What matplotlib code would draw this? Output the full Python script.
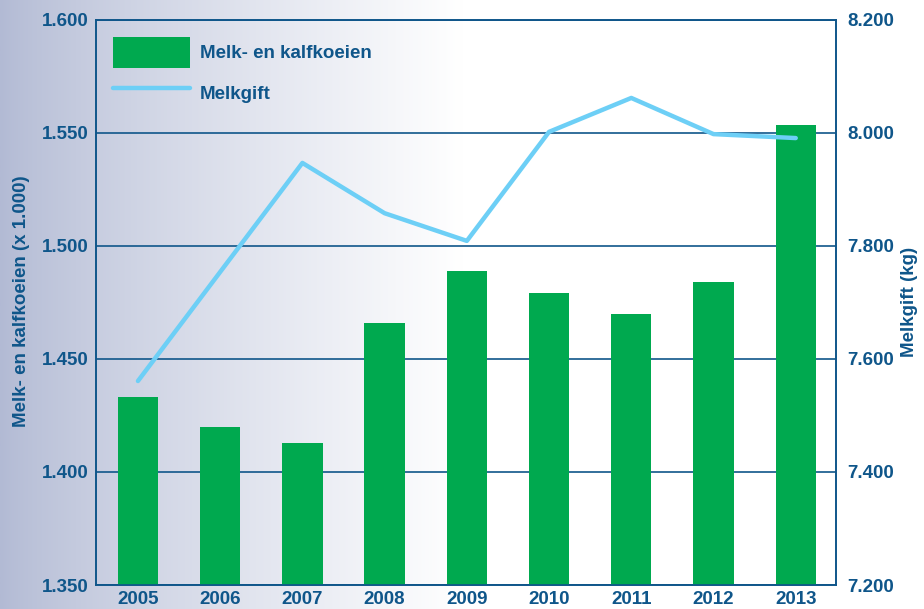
import matplotlib
matplotlib.use('Agg')
import matplotlib.pyplot as plt
import numpy as np
from matplotlib.ticker import FuncFormatter

years = ['2005', '2006', '2007', '2008', '2009', '2010', '2011', '2012', '2013']
koeien = [1.433, 1.420, 1.413, 1.466, 1.489, 1.479, 1.470, 1.484, 1.5535]
melkgift = [7561, 7754, 7947, 7858, 7809, 8002, 8062, 7998, 7991]

dark_blue = '#0f568a'
green = '#00a94f'
light_blue = '#6dcff6'

plt.rcParams['font.family'] = ['Liberation Sans', 'DejaVu Sans']
plt.rcParams['font.weight'] = 'bold'

fig = plt.figure(figsize=(9.24, 6.09), dpi=100)

# background gradient, grey-blue on the left fading to white
bg = fig.add_axes([0, 0, 1, 1], zorder=-10)
grad = np.linspace(0, 1, 400)
grad = np.clip(grad / 0.5, 0, 1) ** 0.8
left_col = np.array([178, 186, 212]) / 255.0
img = left_col[None, None, :] * (1 - grad)[None, :, None] + np.ones(3)[None, None, :] * grad[None, :, None]
bg.imshow(img, aspect='auto', extent=[0, 1, 0, 1])
bg.axis('off')

ax = fig.add_axes([0.1039, 0.0394, 0.8009, 0.9278])
ax.patch.set_alpha(0)
x = np.arange(len(years))

ax.bar(x, koeien, width=0.49, color=green, zorder=3, label='Melk- en kalfkoeien')
ax.set_ylim(1.35, 1.60)
ax.set_xlim(-0.51, 8.49)
ax.set_yticks(np.arange(1.35, 1.6001, 0.05))
ax.yaxis.set_major_formatter(FuncFormatter(lambda v, p: f'{v:.3f}'))
ax.grid(axis='y', color=dark_blue, linewidth=1.2, zorder=1)
ax.set_xticks(x)
ax.set_xticklabels(years)
ax.tick_params(axis='both', length=0, colors=dark_blue, labelsize=13.5, pad=5)
ax.tick_params(axis='x', pad=4)
for s in ax.spines.values():
    s.set_color(dark_blue)
    s.set_linewidth(1.2)

ax2 = ax.twinx()
ax2.plot(x, melkgift, color=light_blue, linewidth=3.2, solid_capstyle='round', zorder=4, label='Melkgift')
ax2.set_ylim(7200, 8200)
ax2.set_yticks(np.arange(7200, 8201, 200))
ax2.yaxis.set_major_formatter(FuncFormatter(lambda v, p: f'{int(v):,}'.replace(',', '.')))
ax2.tick_params(axis='y', length=0, colors=dark_blue, labelsize=13.5, pad=8)
for s in ax2.spines.values():
    s.set_color(dark_blue)
    s.set_linewidth(1.2)

fig.text(22 / 924, 0.505, 'Melk- en kalfkoeien (x 1.000)', rotation=90, ha='center', va='center',
         color=dark_blue, fontsize=13.5, fontweight='bold')
fig.text(910 / 924, 0.505, 'Melkgift (kg)', rotation=90, ha='center', va='center',
         color=dark_blue, fontsize=13.5, fontweight='bold')

h1, l1 = ax.get_legend_handles_labels()
h2, l2 = ax2.get_legend_handles_labels()
leg = ax2.legend(h1 + h2, l1 + l2, loc='upper left', frameon=False, prop={'size': 13.5, 'weight': 'bold'},
                 handlelength=4.1, handleheight=2.2, handletextpad=0.55,
                 labelspacing=0.5, borderaxespad=0.5, borderpad=0.4)
for t in leg.get_texts():
    t.set_color(dark_blue)

fig.savefig('out.png', dpi=100)
